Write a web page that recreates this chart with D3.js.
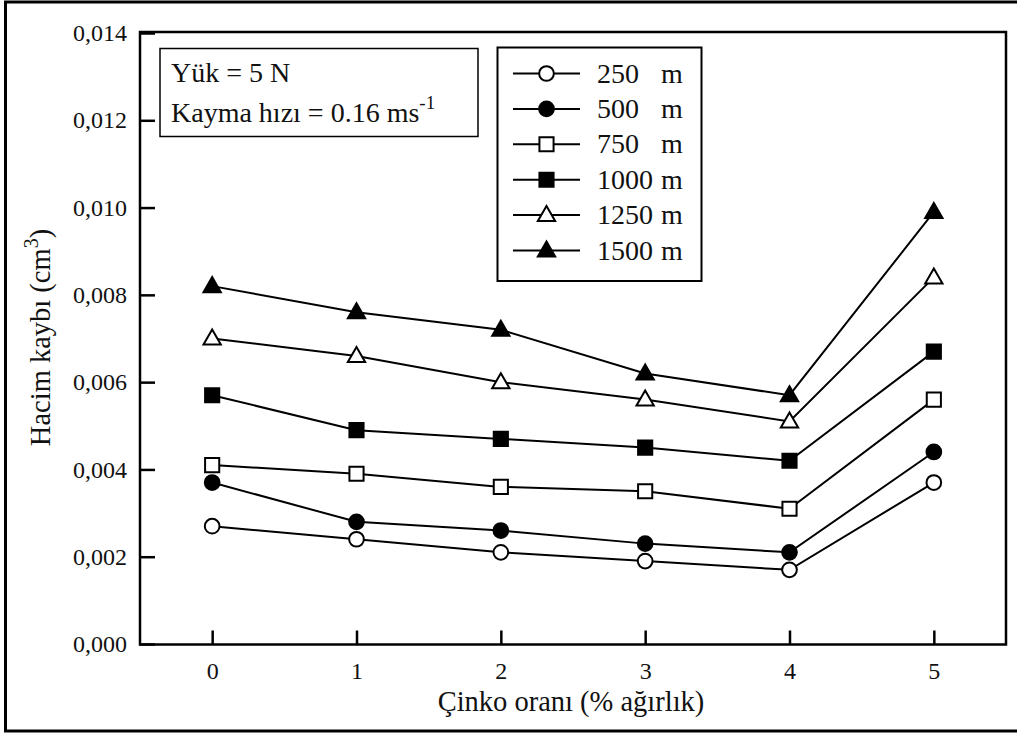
<!DOCTYPE html>
<html>
<head>
<meta charset="utf-8">
<script src="https://cdn.jsdelivr.net/npm/d3@7"></script>
<style>
  html, body { margin: 0; padding: 0; background: #fff; }
  svg { display: block; }
  text { font-family: "Liberation Serif", "Times New Roman", serif; fill: #111; }
</style>
</head>
<body>
<svg id="chart" width="1017" height="735"></svg>
<script>
// Zinc content (% by weight) on the x axis
const zincRatio = [0, 1, 2, 3, 4, 5];

// Volume loss (cm3) per sliding distance
const loss250  = [0.0027, 0.0024, 0.0021, 0.0019, 0.0017, 0.0037];
const loss500  = [0.0037, 0.0028, 0.0026, 0.0023, 0.0021, 0.0044];
const loss750  = [0.0041, 0.0039, 0.0036, 0.0035, 0.0031, 0.0056];
const loss1000 = [0.0057, 0.0049, 0.0047, 0.0045, 0.0042, 0.0067];
const loss1250 = [0.0070, 0.0066, 0.0060, 0.0056, 0.0051, 0.0084];
const loss1500 = [0.0082, 0.0076, 0.0072, 0.0062, 0.0057, 0.0099];

const seriesNames = ["250", "500", "750", "1000", "1250", "1500"];
const seriesValues = [loss250, loss500, loss750, loss1000, loss1250, loss1500];
const markerShapes = ["circle", "circle", "square", "square", "triangle", "triangle"];
const markerFilled = [false, true, false, true, false, true];

const xTicks = [0, 1, 2, 3, 4, 5];
const yTicks = [0, 0.002, 0.004, 0.006, 0.008, 0.010, 0.012, 0.014];

const svg = d3.select("#chart");

// outer frame of the figure (right edge runs past the canvas)
svg.append("rect")
  .attr("x", 5.5).attr("y", 2).attr("width", 1040).attr("height", 729)
  .attr("fill", "none").attr("stroke", "#000").attr("stroke-width", 3);

const plot = { left: 140, top: 32, right: 1006, bottom: 644.5 };

const x = d3.scaleLinear().domain([-0.5, 5.5]).range([plot.left, plot.right]);
const y = d3.scaleLinear().domain([0, 0.014]).range([644, 33]);

// axes with inward ticks
const xAxis = d3.axisBottom(x).tickValues(xTicks).tickFormat(d3.format("d"))
  .tickSizeInner(-14).tickSizeOuter(0).tickPadding(17);
const yAxis = d3.axisLeft(y).tickValues(yTicks)
  .tickFormat(d => d3.format(".3f")(d).replace(".", ","))
  .tickSizeInner(-15).tickSizeOuter(0).tickPadding(13);

const gx = svg.append("g").attr("transform", `translate(0,${plot.bottom})`).call(xAxis);
const gy = svg.append("g").attr("transform", `translate(${plot.left},0)`).call(yAxis);
[gx, gy].forEach(g => {
  g.select(".domain").remove();
  g.selectAll(".tick line").attr("stroke", "#000").attr("stroke-width", 2.5);
  g.selectAll(".tick text")
    .style("font-family", "'Liberation Serif', 'Times New Roman', serif")
    .style("font-size", "24px").attr("fill", "#111");
});

// plot frame
svg.append("rect")
  .attr("x", plot.left).attr("y", plot.top)
  .attr("width", plot.right - plot.left).attr("height", plot.bottom - plot.top)
  .attr("fill", "none").attr("stroke", "#000").attr("stroke-width", 2.5);

// axis titles
svg.append("text")
  .attr("x", (plot.left + plot.right) / 2 - 2).attr("y", 711)
  .attr("text-anchor", "middle").style("font-size", "28.5px")
  .text("Çinko oranı (% ağırlık)");

const yTitle = svg.append("text")
  .attr("transform", `translate(50,${(33 + 644) / 2 - 1}) rotate(-90)`)
  .attr("text-anchor", "middle").style("font-size", "28.5px");
yTitle.append("tspan").text("Hacim kaybı (cm");
yTitle.append("tspan").attr("dy", -12).style("font-size", "20px").text("3");
yTitle.append("tspan").attr("dy", 12).text(")");

// marker drawing
const symbolSize = { circle: 170, square: 200, triangle: 130 };
function drawMarker(g, shape, filled, cx, cy) {
  const type = shape === "circle" ? d3.symbolCircle
    : shape === "square" ? d3.symbolSquare : d3.symbolTriangle;
  g.append("path")
    .attr("d", d3.symbol().type(type).size(symbolSize[shape])())
    .attr("transform", `translate(${cx},${cy + (shape === "triangle" ? 1 : 0)})`)
    .attr("fill", filled ? "#000" : "#fff")
    .attr("stroke", "#000").attr("stroke-width", 2);
}

const line = d3.line().x((d, i) => x(zincRatio[i])).y(d => y(d));

seriesValues.forEach((vals, s) => {
  const g = svg.append("g");
  g.append("path").datum(vals).attr("d", line)
    .attr("fill", "none").attr("stroke", "#000").attr("stroke-width", 2);
  vals.forEach((v, i) => drawMarker(g, markerShapes[s], markerFilled[s], x(zincRatio[i]), y(v)));
});

// conditions box
svg.append("rect").attr("x", 160).attr("y", 48.5).attr("width", 318).attr("height", 88)
  .attr("fill", "#fff").attr("stroke", "#000").attr("stroke-width", 1.5);
svg.append("text").attr("x", 171).attr("y", 82).style("font-size", "28px").text("Yük = 5 N");
const speed = svg.append("text").attr("x", 171).attr("y", 122).style("font-size", "28px");
speed.append("tspan").text("Kayma hızı = 0.16 ms");
speed.append("tspan").attr("dy", -13).style("font-size", "19px").text("-1");

// legend
const legend = svg.append("g");
legend.append("rect").attr("x", 497.5).attr("y", 47.5).attr("width", 204).attr("height", 233.5)
  .attr("fill", "#fff").attr("stroke", "#000").attr("stroke-width", 2);
seriesNames.forEach((name, s) => {
  const cy = 73.5 + s * 35.4;
  legend.append("line").attr("x1", 513).attr("x2", 580).attr("y1", cy).attr("y2", cy)
    .attr("stroke", "#000").attr("stroke-width", 2);
  drawMarker(legend, markerShapes[s], markerFilled[s], 546.5, cy);
  legend.append("text").attr("x", 597).attr("y", cy + 9).style("font-size", "28px").text(name);
  legend.append("text").attr("x", 661).attr("y", cy + 9).style("font-size", "28px").text("m");
});
</script>
</body>
</html>
